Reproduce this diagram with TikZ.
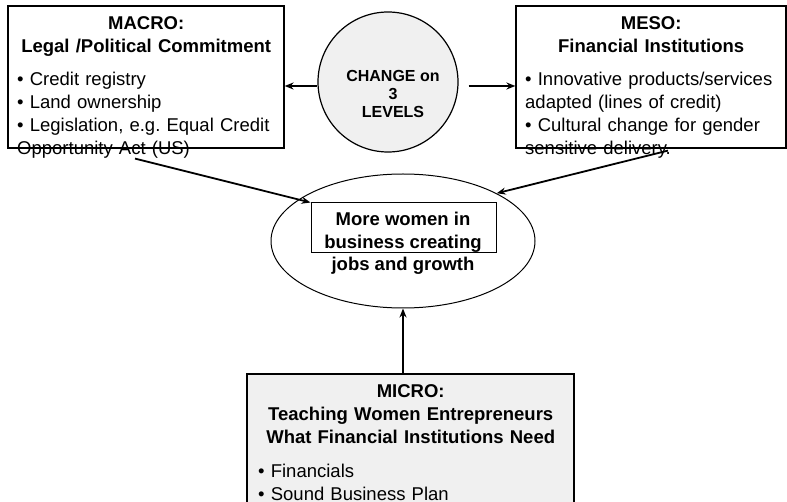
\documentclass[tikz,border=0pt]{standalone}
\usepackage{fontspec}
\setmainfont{Liberation Sans}
\usepackage{tikz}
\usetikzlibrary{positioning,shapes.geometric,arrows.meta}
\tikzset{c-box/.style={rectangle, draw=black, line width=1.2pt, inner sep=0pt},
c-text/.style={inner sep=0pt, anchor=base west, font=\fontsize{18.5}{23}\selectfont},
arrow/.style={line width=1.8pt,-{Stealth[length=9pt,width=7pt]}}}
\definecolor{c_fill}{gray}{0.94}

\begin{document}
\begin{tikzpicture}[x=1pt, y=1pt]
\useasboundingbox (0,0) rectangle (787,501);
\node (macro) [c-box, minimum width=276, minimum height=142] at (146,424) {};
\node (meso) [c-box, minimum width=270, minimum height=142] at (651,424) {};
\node (micro) [c-box, fill=c_fill, minimum width=327, minimum height=131] at (410.5,61.5) {};
\node (levels) [circle, draw=black, line width=1.2pt, fill=c_fill, minimum size=140] at (388,419) {};
\node (women) [ellipse, draw=black, line width=1pt, minimum width=264, minimum height=134, inner sep=0pt] at (403,260) {};
\node (goal) [c-box, line width=1pt, minimum width=185, minimum height=50] at (403.5,273) {};

\node (macrotext) [c-text, text width=258] at (17,471.4) {
{\centering\bfseries MACRO:\\ Legal /Political Commitment\par}\vspace{10pt}
\raggedright • Credit registry\\
• Land ownership\\
• Legislation, e.g.\ Equal Credit\\
Opportunity Act (US)
};
\node (mesotext) [c-text, text width=252] at (525,471.4) {
{\centering\bfseries MESO:\\ Financial Institutions\par}\vspace{10pt}
\raggedright • Innovative products/services\\
adapted (lines of credit)\\
• Cultural change for gender\\
sensitive delivery.
};
\node (microtext) [c-text, text width=305] at (258,103.4) {
{\centering\bfseries MICRO:\\ Teaching Women Entrepreneurs\\ What Financial Institutions Need\par}\vspace{11pt}
\raggedright • Financials\\
• Sound Business Plan
};
\node (levelstext) [inner sep=0pt, anchor=base, align=center, font=\fontsize{16}{18}\selectfont\bfseries] at (393,383.3) {
CHANGE on\\ 3\\ LEVELS
};
\node (goaltext) [inner sep=0pt, anchor=base, align=center, font=\fontsize{18.5}{22.5}\selectfont\bfseries] at (403,230) {
More women in\\ business creating\\ jobs and growth
};

% arrow ends
\coordinate (lv-w) at ([yshift=-4]levels.west);
\coordinate (lv-e) at ([shift={(10,-4)}]levels.east);
\coordinate (macro-out) at ([shift={(-11,-10)}]macro.south);
\coordinate (meso-out) at ([shift={(17,-2)}]meso.south);

\draw [arrow] (lv-w) -- (macro.east |- lv-w);
\draw [arrow] (lv-e) -- (meso.west |- lv-e);
\draw [arrow] (macro-out) -- (goal.north west);
\draw [arrow] (meso-out) -- (women.27);
\draw [arrow] (micro.north -| women.south) -- (women.south);
\end{tikzpicture}
\end{document}
